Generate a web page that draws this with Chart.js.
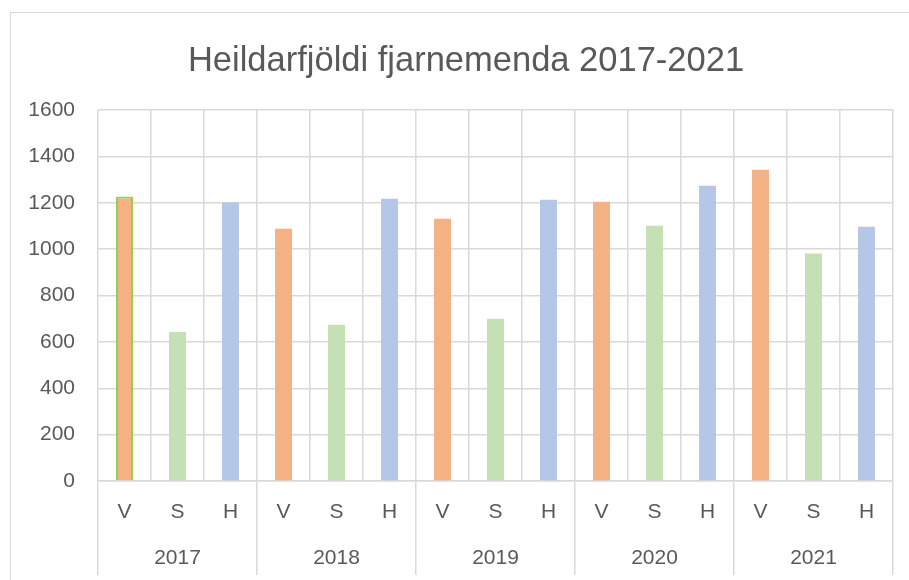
<!DOCTYPE html>
<html lang="is">
<head>
<meta charset="utf-8">
<title>Heildarfjöldi fjarnemenda 2017-2021</title>
<script src="https://cdn.jsdelivr.net/npm/chart.js@4/dist/chart.umd.min.js"></script>
<style>
  html, body { margin: 0; padding: 0; background: #fff; overflow: hidden; }
  #frame {
    position: absolute; left: 10px; top: 12px;
    width: 1000px; height: 1000px;
    border: 1px solid #d9d9d9;
  }
  #chart { position: absolute; left: 0; top: 0; }
</style>
</head>
<body>
<div id="frame"></div>
<canvas id="chart" width="932" height="580"></canvas>
<script>
// ---- gögn (lesin af myndinni) ----
const years   = ['2017', '2018', '2019', '2020', '2021'];
const groups  = ['V', 'S', 'H'];
const vValues = [1227, 1088, 1131, 1204, 1342];
const sValues = [643, 674, 700, 1101, 981];
const hValues = [1201, 1217, 1213, 1273, 1096];
const yTicks  = [0, 200, 400, 600, 800, 1000, 1200, 1400, 1600];

const COLORS = { V: '#F4B183', S: '#C5E0B4', H: '#B4C7E7' };
const GRID   = '#d9d9d9';
const TEXT   = '#595959';
const FONT   = '"Liberation Sans", Arial, sans-serif';

// raða V,S,H fyrir hvert ár
const labels = [];
const values = [];
const colors = [];
years.forEach((y, i) => {
  [vValues[i], sValues[i], hValues[i]].forEach((v, j) => {
    labels.push(groups[j]);
    values.push(v);
    colors.push(COLORS[groups[j]]);
  });
});

// fyrsta súlan er með grænum ramma á myndinni
const borderColors = values.map((v, i) => i === 0 ? '#92D050' : 'rgba(0,0,0,0)');
const borderWidths = values.map((v, i) => i === 0 ? 2 : 0);

// titillinn er fyrir miðjum rammanum (sem nær út fyrir myndina), ekki striganum
const titleShift = {
  id: 'titleShift',
  afterLayout(chart) {
    if (chart.titleBlock) chart.titleBlock.left += 39;
  }
};

new Chart(document.getElementById('chart'), {
  type: 'bar',
  data: {
    labels,
    datasets: [{
      data: values,
      backgroundColor: colors,
      borderColor: borderColors,
      borderWidth: borderWidths,
      barPercentage: 0.32,
      categoryPercentage: 1
    }]
  },
  plugins: [titleShift],
  options: {
    responsive: false,
    animation: false,
    layout: { padding: { left: 0, right: 39, top: 0, bottom: 0 } },
    plugins: {
      legend: { display: false },
      tooltip: { enabled: false },
      title: {
        display: true,
        text: 'Heildarfjöldi fjarnemenda 2017-2021',
        color: TEXT,
        font: { family: FONT, size: 34.5, weight: 'normal' },
        padding: { top: 41, bottom: 27.6 }
      }
    },
    scales: {
      y: {
        min: 0,
        max: 1600,
        afterBuildTicks: s => { s.ticks = yTicks.map(v => ({ value: v })); },
        afterFit: s => { s.width = 98; },
        ticks: {
          color: TEXT,
          font: { family: FONT, size: 21 },
          padding: 23,
          callback: v => String(v)
        },
        grid: { color: GRID, lineWidth: 1.5, drawTicks: false },
        border: { display: false }
      },
      x: {
        weight: 0,
        afterFit: s => { s.height = 55; },
        ticks: { color: TEXT, font: { family: FONT, size: 21 }, padding: 19 - 94, maxRotation: 0, autoSkip: false },
        grid: {
          color: GRID,
          lineWidth: 1.5,
          offset: true,
          drawTicks: true,
          tickLength: 94,
          // skilin niður í merkjasvæðið aðeins milli ára
          tickColor: c => (c.index === undefined || c.index % 3 === 0) ? GRID : 'rgba(0,0,0,0)'
        },
        border: { display: true, color: GRID, width: 1.5 }
      },
      x2: {
        type: 'category',
        labels: years,
        position: 'bottom',
        weight: 1,
        offset: true,
        afterFit: s => { s.height = 44; },
        ticks: { color: TEXT, font: { family: FONT, size: 21 }, padding: 10, maxRotation: 0 },
        grid: { display: false, drawTicks: false },
        border: { display: false }
      }
    }
  }
});
</script>
</body>
</html>
